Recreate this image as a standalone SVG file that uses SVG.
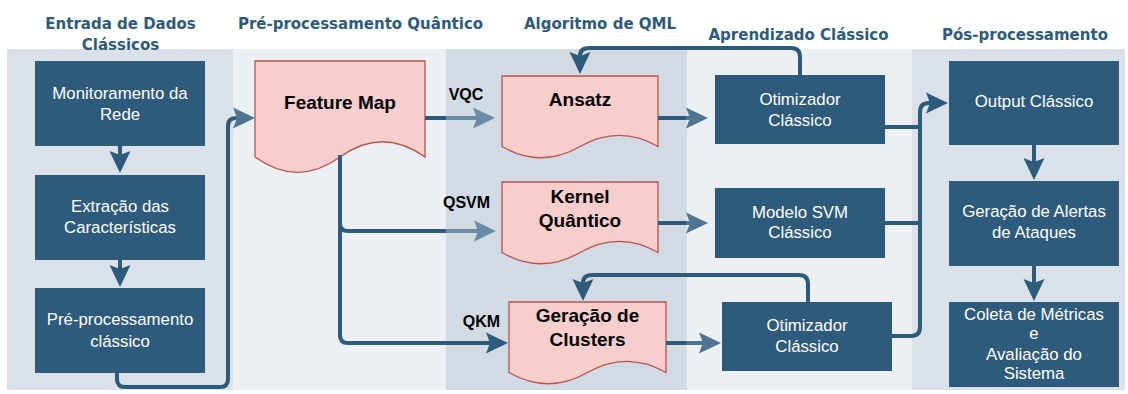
<svg xmlns="http://www.w3.org/2000/svg" width="1128" height="394" viewBox="0 0 1128 394">
  <style>
    .title { font-family: "DejaVu Sans", Verdana, sans-serif; font-weight: bold; font-size: 15px; fill: #2e5a7b; text-anchor: middle; }
    .box { fill: #2e5a7b; }
    .btxt { font-family: "Liberation Sans", Arial, sans-serif; font-size: 16.8px; fill: #ffffff; text-anchor: middle; }
    .doc { fill: #f8cecc; stroke: #b85450; stroke-width: 1.3; }
    .dtxt { font-family: "Liberation Sans", Arial, sans-serif; font-weight: bold; font-size: 19px; fill: #000000; text-anchor: middle; }
    .lbl { font-family: "Liberation Sans", Arial, sans-serif; font-weight: bold; font-size: 16px; fill: #000000; text-anchor: middle; }
    .edge { fill: none; stroke: #2e5a7b; stroke-width: 4; }
    .edge.mid { stroke: #4f7592; }
    .edge.pale { stroke: #6b8ca5; }
    .lane-a { fill: #dae1e8; }
    .lane-b { fill: #ecf0f4; }
    .lane-c { fill: #d2dbe3; }
  </style>
  <defs>
    <marker id="ah" markerUnits="userSpaceOnUse" markerWidth="22" markerHeight="22" viewBox="0 0 22 22" refX="4" refY="11" orient="auto">
      <path d="M0,0.5 L22,11 L0,21.5 L4,11 Z" fill="#2e5a7b"/>
    </marker>
    <marker id="ah-mid" markerUnits="userSpaceOnUse" markerWidth="22" markerHeight="22" viewBox="0 0 22 22" refX="4" refY="11" orient="auto">
      <path d="M0,0.5 L22,11 L0,21.5 L4,11 Z" fill="#4f7592"/>
    </marker>
    <marker id="ah-pale" markerUnits="userSpaceOnUse" markerWidth="22" markerHeight="22" viewBox="0 0 22 22" refX="4" refY="11" orient="auto">
      <path d="M0,0.5 L22,11 L0,21.5 L4,11 Z" fill="#6b8ca5"/>
    </marker>
  </defs>

  <rect width="1128" height="394" fill="#ffffff"/>

  <!-- swimlanes -->
  <g id="lanes">
    <rect class="lane-a" x="7" y="49" width="226" height="341"/>
    <rect class="lane-b" x="233" y="49" width="213" height="341"/>
    <rect class="lane-c" x="446" y="49" width="241" height="341"/>
    <rect class="lane-b" x="687" y="49" width="225" height="341"/>
    <rect class="lane-a" x="912" y="49" width="213" height="341"/>
    <text class="title" x="120.5" y="29">Entrada de Dados</text>
    <text class="title" x="120.5" y="50">Clássicos</text>
    <text class="title" x="360.5" y="29">Pré-processamento Quântico</text>
    <text class="title" x="600" y="29">Algoritmo de QML</text>
    <text class="title" x="798.5" y="40">Aprendizado Clássico</text>
    <text class="title" x="1025" y="40">Pós-processamento</text>
  </g>

  <!-- classical input -->
  <g id="monitoramento">
    <rect class="box" x="35" y="61" width="170" height="85"/>
    <text class="btxt" x="120" y="99">Monitoramento da</text>
    <text class="btxt" x="120" y="120">Rede</text>
  </g>
  <g id="extracao">
    <rect class="box" x="35" y="175" width="170" height="85"/>
    <text class="btxt" x="120" y="212">Extração das</text>
    <text class="btxt" x="120" y="233">Características</text>
  </g>
  <g id="preproc-classico">
    <rect class="box" x="35" y="288" width="170" height="85"/>
    <text class="btxt" x="120" y="325">Pré-processamento</text>
    <text class="btxt" x="120" y="347">clássico</text>
  </g>

  <!-- quantum stages -->
  <g id="feature-map">
    <path class="doc" d="M255,61 H425 V157 Q382.5,126.5 340,157 Q297.5,187.6 255,157 Z"/>
    <text class="dtxt" x="340" y="109">Feature Map</text>
  </g>
  <g id="ansatz">
    <path class="doc" d="M502,76 H658 V146.5 Q619,124.1 580,146.5 Q541,169 502,146.5 Z"/>
    <text class="dtxt" x="580" y="106">Ansatz</text>
  </g>
  <g id="kernel">
    <path class="doc" d="M502,182 H658 V252.5 Q619,230.1 580,252.5 Q541,275 502,252.5 Z"/>
    <text class="dtxt" x="580" y="203">Kernel</text>
    <text class="dtxt" x="580" y="227">Quântico</text>
  </g>
  <g id="clusters">
    <path class="doc" d="M509,302 H666 V372.5 Q626.75,350.1 587.5,372.5 Q548.25,395 509,372.5 Z"/>
    <text class="dtxt" x="587.5" y="322">Geração de</text>
    <text class="dtxt" x="587.5" y="346">Clusters</text>
  </g>

  <!-- classical learning -->
  <g id="otimizador-vqc">
    <rect class="box" x="715" y="75" width="170" height="69"/>
    <text class="btxt" x="800" y="105">Otimizador</text>
    <text class="btxt" x="800" y="126">Clássico</text>
  </g>
  <g id="modelo-svm">
    <rect class="box" x="715" y="188" width="170" height="70"/>
    <text class="btxt" x="800" y="218">Modelo SVM</text>
    <text class="btxt" x="800" y="238">Clássico</text>
  </g>
  <g id="otimizador-qkm">
    <rect class="box" x="722" y="302" width="170" height="69"/>
    <text class="btxt" x="807" y="331">Otimizador</text>
    <text class="btxt" x="807" y="352">Clássico</text>
  </g>

  <!-- post-processing -->
  <g id="output">
    <rect class="box" x="949" y="61" width="170" height="84"/>
    <text class="btxt" x="1034" y="107">Output Clássico</text>
  </g>
  <g id="alertas">
    <rect class="box" x="949" y="181" width="170" height="85"/>
    <text class="btxt" x="1034" y="217">Geração de Alertas</text>
    <text class="btxt" x="1034" y="238">de Ataques</text>
  </g>
  <g id="metricas">
    <rect class="box" x="949" y="302" width="170" height="85"/>
    <text class="btxt" x="1034" y="320">Coleta de Métricas</text>
    <text class="btxt" x="1034" y="339">e</text>
    <text class="btxt" x="1034" y="360">Avaliação do</text>
    <text class="btxt" x="1034" y="379">Sistema</text>
  </g>

  <!-- connectors -->
  <g id="connectors">
    <path class="edge" d="M120,146 V155" marker-end="url(#ah)"/>
    <path class="edge" d="M120,260 V269" marker-end="url(#ah)"/>

    <path class="edge" d="M117,373 V379 Q117,387 125,387 H220 Q228,387 228,379 V126 Q228,118 236,118"/>
    <path class="edge mid" d="M236,118 H237" marker-end="url(#ah-mid)"/>

    <path class="edge" d="M425,118 H446"/>
    <path class="edge pale" d="M446,118 H477" marker-end="url(#ah-pale)"/>

    <path class="edge" d="M340,155 V223 Q340,231 348,231 H446"/>
    <path class="edge pale" d="M446,231 H478" marker-end="url(#ah-pale)"/>

    <path class="edge" d="M340,155 V335 Q340,343 348,343 H490" marker-end="url(#ah)"/>

    <path class="edge" d="M658,118 H686"/>
    <path class="edge mid" d="M686,118 H690" marker-end="url(#ah-mid)"/>

    <path class="edge" d="M658,223 H686"/>
    <path class="edge mid" d="M686,223 H690" marker-end="url(#ah-mid)"/>

    <path class="edge" d="M666,343 H686"/>
    <path class="edge mid" d="M686,343 H703" marker-end="url(#ah-mid)"/>

    <path class="edge" d="M800,75 V57 Q800,48 791,48 H589 Q580,48 580,56" marker-end="url(#ah)"/>
    <path class="edge" d="M808,302 V284 Q808,275 799,275 H592 Q583,275 583,283" marker-end="url(#ah)"/>

    <path class="edge" d="M885,127 H920"/>
    <path class="edge" d="M885,223 H920"/>
    <path class="edge" d="M892,336 H911 Q920,336 920,327 V112 Q920,103 929,103 H930" marker-end="url(#ah)"/>

    <path class="edge" d="M1034,145 V162" marker-end="url(#ah)"/>
    <path class="edge" d="M1034,266 V283" marker-end="url(#ah)"/>
  </g>

  <!-- path labels -->
  <g id="labels">
    <text class="lbl" x="466" y="100">VQC</text>
    <text class="lbl" x="466.5" y="208">QSVM</text>
    <text class="lbl" x="481.5" y="327">QKM</text>
  </g>
</svg>
